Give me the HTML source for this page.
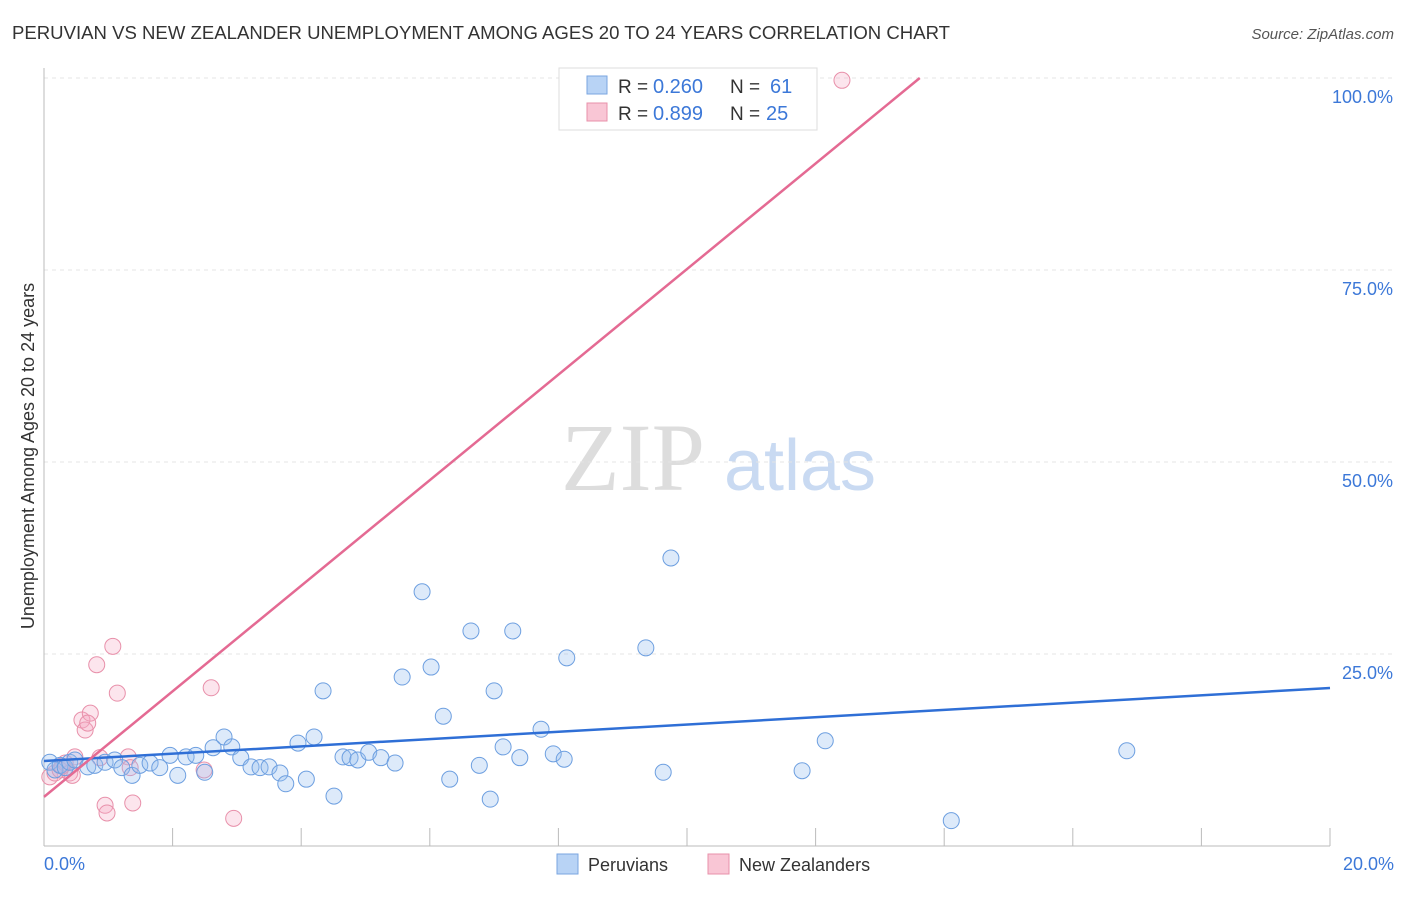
<!DOCTYPE html>
<html><head><meta charset="utf-8"><style>
body{margin:0;background:#fff;font-family:"Liberation Sans",sans-serif}
</style></head><body>
<svg width="1406" height="892" xmlns="http://www.w3.org/2000/svg">
<text x="12" y="39" font-size="18" fill="#333" textLength="938" lengthAdjust="spacingAndGlyphs">PERUVIAN VS NEW ZEALANDER UNEMPLOYMENT AMONG AGES 20 TO 24 YEARS CORRELATION CHART</text>
<text x="1394" y="39" font-size="15" fill="#555" font-style="italic" text-anchor="end">Source: ZipAtlas.com</text>
<g>
<text x="633" y="490" font-size="96" fill="#ddd" font-family="Liberation Serif" text-anchor="middle">ZIP</text>
<text x="800" y="490" font-size="72" fill="#c9daf2" text-anchor="middle">atlas</text></g>
<g id="grid"></g><g id="axes"></g><g id="marks"></g>
<text transform="translate(34,456) rotate(-90)" font-size="18" fill="#333" text-anchor="middle">Unemployment Among Ages 20 to 24 years</text>
<g>
<rect x="559" y="68" width="258" height="62" fill="#fff" stroke="#ddd"/>
<rect x="587" y="76" width="20" height="18" fill="#b8d3f5" stroke="#7aa6e0"/>
<rect x="587" y="103" width="20" height="18" fill="#f9c6d5" stroke="#e890aa"/>
<text x="618" y="93" font-size="19" fill="#333">R =</text>
<text x="653" y="93" font-size="20" fill="#3c78d8">0.260</text>
<text x="730" y="93" font-size="19" fill="#333">N =</text>
<text x="770" y="93" font-size="20" fill="#3c78d8">61</text>
<text x="618" y="120" font-size="19" fill="#333">R =</text>
<text x="653" y="120" font-size="20" fill="#3c78d8">0.899</text>
<text x="730" y="120" font-size="19" fill="#333">N =</text>
<text x="766" y="120" font-size="20" fill="#3c78d8">25</text>
</g>
<g>
<rect x="557" y="854" width="21" height="20" fill="#b8d3f5" stroke="#7aa6e0"/>
<text x="588" y="871" font-size="18" fill="#333">Peruvians</text>
<rect x="708" y="854" width="21" height="20" fill="#f9c6d5" stroke="#e890aa"/>
<text x="739" y="871" font-size="18" fill="#333">New Zealanders</text>
</g>
</svg>
<script>
const blueX=[0.09,0.17,0.25,0.33,0.40,0.48,0.68,0.79,0.95,1.10,1.21,1.37,1.49,1.65,1.80,1.96,2.08,2.21,2.36,2.50,2.63,2.80,2.92,3.06,3.22,3.36,3.50,3.67,3.76,3.95,4.08,4.20,4.34,4.51,4.65,4.76,4.88,5.05,5.24,5.46,5.57,5.88,6.02,6.21,6.31,6.64,6.77,6.94,7.00,7.14,7.29,7.40,7.73,7.92,8.09,8.13,9.36,9.63,9.75,11.79,12.15,14.11,16.84];
const blueY=[10.9,9.9,10.5,10.2,10.9,11.2,10.3,10.5,10.9,11.2,10.2,9.2,10.5,10.8,10.2,11.8,9.2,11.6,11.8,9.6,12.8,14.2,12.9,11.5,10.3,10.2,10.3,9.5,8.1,13.4,8.7,14.2,20.2,6.5,11.6,11.5,11.2,12.2,11.5,10.8,22.0,33.1,23.3,16.9,8.7,28.0,10.5,6.1,20.2,12.9,28.0,11.5,15.2,12.0,11.3,24.5,25.8,9.6,37.5,9.8,13.7,3.3,12.4];
const pinkX=[0.09,0.17,0.25,0.33,0.40,0.48,0.59,0.64,0.72,0.82,0.87,0.95,0.98,1.07,1.14,1.31,1.38,2.49,2.60,2.95,12.41,0.68,0.44,0.28,1.34];
const pinkY=[9.0,9.5,9.9,10.8,9.5,11.6,16.4,15.1,17.3,23.6,11.5,5.3,4.3,26.0,19.9,11.6,5.6,9.9,20.6,3.6,99.7,16.0,9.2,10.4,10.2];
const blueTrend=[[0,11.07],[20,20.57]];
const pinkTrend=[[0,6.4],[13.62,100]];
const yTicks=[25,50,75,100];
const yTickLabels=["25.0%","50.0%","75.0%","100.0%"];
const xTicks=[0,2,4,6,8,10,12,14,16,18,20];
const NS="http://www.w3.org/2000/svg";
const sx=v=>44+v*64.3, sy=v=>846-v*7.68;
function mk(p,t,a){const e=document.createElementNS(NS,t);for(const k in a)e.setAttribute(k,a[k]);document.getElementById(p).appendChild(e);return e;}
yTicks.forEach((t,i)=>{
 const l=mk('grid','line',{x1:44,x2:1394,y1:sy(t),y2:sy(t),stroke:'#e4e4e4','stroke-dasharray':'4,4'});
 
 
 const tx=mk('axes','text',{x:1393,y:sy(t)+25,'font-size':18,fill:'#3c78d8','text-anchor':'end'});
 tx.textContent=yTickLabels[i];
 
 
});
const ax=mk('axes','line',{x1:44,x2:1330,y1:846,y2:846,stroke:'#bbb'});


const ay=mk('axes','line',{x1:44,x2:44,y1:68,y2:846,stroke:'#bbb'});


xTicks.forEach(t=>{const l=mk('axes','line',{x1:sx(t),x2:sx(t),y1:828,y2:846,stroke:'#bbb'});
 
 });
[[0,'0.0%','start',44],[20,'20.0%','end',1394]].forEach(d=>{const t=mk('axes','text',{x:d[3],y:870,'font-size':18,fill:'#3c78d8','text-anchor':d[2]});t.textContent=d[1];
 
 });
pinkX.forEach((x,i)=>{const c=mk('marks','circle',{cx:sx(x),cy:sy(pinkY[i]),r:8,fill:'rgba(245,170,195,0.3)',stroke:'#e890aa','stroke-width':1});
 
 });
blueX.forEach((x,i)=>{const c=mk('marks','circle',{cx:sx(x),cy:sy(blueY[i]),r:8,fill:'rgba(150,190,240,0.32)',stroke:'#6d9fe0','stroke-width':1});
 
 });
const bl=mk('marks','line',{x1:sx(blueTrend[0][0]),y1:sy(blueTrend[0][1]),x2:sx(blueTrend[1][0]),y2:sy(blueTrend[1][1]),stroke:'#2f6fd6','stroke-width':2.5});


const pl=mk('marks','line',{x1:sx(pinkTrend[0][0]),y1:sy(pinkTrend[0][1]),x2:sx(pinkTrend[1][0]),y2:sy(pinkTrend[1][1]),stroke:'#e46a93','stroke-width':2.5});


</script>
</body></html>
